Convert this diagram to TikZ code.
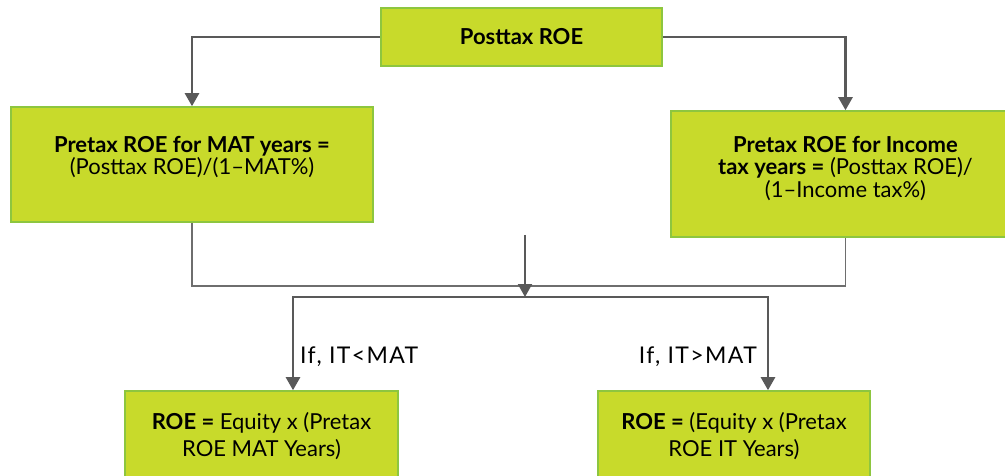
\documentclass[tikz,border=0pt]{standalone}
\usepackage{fontspec}
\setmainfont{Lato}
\usepackage{tikz}
\usetikzlibrary{arrows.meta}
\usetikzlibrary{positioning}
\definecolor{boxfill}{HTML}{C8DA2B}
\definecolor{boxline}{HTML}{8DC63F}
\definecolor{arrowgray}{HTML}{595959}
\definecolor{joingray}{HTML}{6E6E6E}
\tikzstyle{box} = [rectangle, draw = boxline, line width = 1.6pt, fill = boxfill, align = center, inner sep = 0pt, font = \fontsize{22}{22.5}\selectfont]
\tikzstyle{low box} = [box, font = \fontsize{22}{27}\selectfont]
\tikzstyle{flow} = [draw = arrowgray, line width = 2.6pt]
\tikzstyle{flow arrow} = [flow, -{Triangle[width = 14pt, length = 13pt]}]
\tikzstyle{join line} = [draw = joingray, line width = 1.2pt]
\tikzstyle{case label} = [font = \fontsize{23}{24}\selectfont\addfontfeature{LetterSpace = 6}, inner sep = 0pt]
\tikzstyle{flow picture} = [x = 1pt, y = -1pt]

\begin{document}
\begin{tikzpicture}[flow picture]
            \useasboundingbox (0, 0) rectangle (1005, 476);
            \node [box, minimum width = 281, minimum height = 58] (posttax) at (521.5, 37) {\textbf{Posttax ROE}};
            \node [box, minimum width = 362, minimum height = 115] (pretaxmat) at (192, 164.5)
                {\textbf{Pretax ROE for MAT years =}\\(Posttax ROE)/(1--MAT\%)\\[-4pt]\mbox{}};
            \node [box, minimum width = 349, minimum height = 126] (pretaxit) at (845.5, 174)
                {\textbf{Pretax ROE for Income}\\\textbf{tax years =} (Posttax ROE)/\\(1--Income tax\%)\\[-8pt]\mbox{}};
            \node [low box, minimum width = 273, minimum height = 90] (roemat) at (261.5, 436)
                {\textbf{ROE =} Equity x (Pretax\\ROE MAT Years)};
            \node [low box, minimum width = 272, minimum height = 90] (roeit) at (734, 436)
                {\textbf{ROE =} (Equity x (Pretax\\ROE IT Years)};
            \node [case label, anchor = west] (ifless) at (300, 357) {If, IT<MAT};
            \node [case label, anchor = east] (ifmore) at (757, 357) {If, IT>MAT};
            \coordinate (merge) at (525, 286);
            \coordinate (drop) at (525, 235);
            \coordinate (split) at (525, 297);
            \draw [flow arrow] (posttax.west) -| (pretaxmat.north);
            \draw [flow arrow] (posttax.east) -| (pretaxit.north);
            \draw [join line] (pretaxmat.south) |- (merge) -| (pretaxit.south);
            \draw [flow arrow, line width = 2pt] (drop) -- (split);
            \draw [flow arrow] (split) -| ([xshift = 31.5]roemat.north);
            \draw [flow arrow] (split) -| ([xshift = 34]roeit.north);
        \end{tikzpicture}
\end{document}
